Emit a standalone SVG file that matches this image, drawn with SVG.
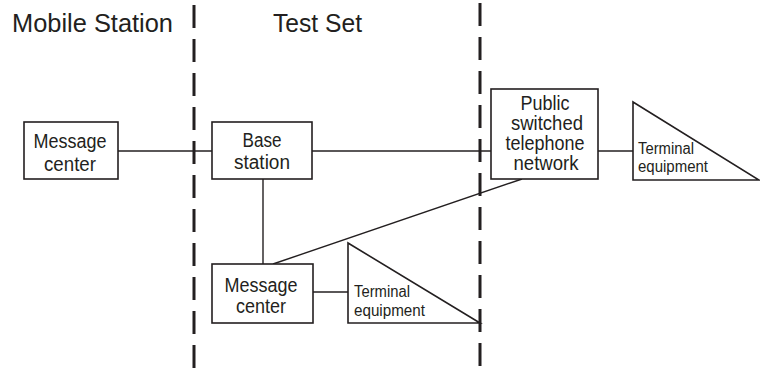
<svg xmlns="http://www.w3.org/2000/svg" width="760" height="368" viewBox="0 0 760 368">
<style>
.box{fill:#fff;stroke:#231f20;stroke-width:1.6}
.ln{fill:none;stroke:#231f20;stroke-width:1.4}
.dash{fill:none;stroke:#231f20;stroke-width:3;stroke-dasharray:23 11}
.t{font-family:"Liberation Sans",Arial,sans-serif;fill:#231f20;text-anchor:middle;font-size:19.5px}
.tl{font-family:"Liberation Sans",Arial,sans-serif;fill:#231f20;font-size:16px}
.h{font-family:"Liberation Sans",Arial,sans-serif;fill:#231f20;font-size:26.5px}
</style>
<rect width="760" height="368" fill="#fff"/>
<g id="labels">
<text class="h" x="12" y="32" textLength="161" lengthAdjust="spacingAndGlyphs">Mobile Station</text>
<text class="h" x="273" y="32" textLength="89" lengthAdjust="spacingAndGlyphs">Test Set</text>
</g>
<g id="boundaries">
<line class="dash" x1="194" y1="5" x2="194" y2="368"/>
<line class="dash" x1="480" y1="3" x2="480" y2="368"/>
</g>
<g id="connectors">
<line class="ln" x1="118" y1="151" x2="212" y2="151"/>
<line class="ln" x1="312" y1="151" x2="491" y2="151"/>
<line class="ln" x1="598" y1="151" x2="633" y2="151"/>
<line class="ln" x1="263" y1="179" x2="263" y2="264"/>
<line class="ln" x1="273" y1="264" x2="522" y2="179"/>
<line class="ln" x1="313" y1="292" x2="348" y2="292"/>
</g>
<g id="ms-message-center">
<rect class="box" x="24" y="122" width="94" height="57"/>
<text class="t" x="70" y="148" textLength="73" lengthAdjust="spacingAndGlyphs">Message</text>
<text class="t" x="70" y="171" textLength="52" lengthAdjust="spacingAndGlyphs">center</text>
</g>
<g id="base-station">
<rect class="box" x="212" y="122" width="100" height="57"/>
<text class="t" x="262" y="147" textLength="39" lengthAdjust="spacingAndGlyphs">Base</text>
<text class="t" x="262" y="169" textLength="56" lengthAdjust="spacingAndGlyphs">station</text>
</g>
<g id="ts-message-center">
<rect class="box" x="212" y="264" width="101" height="59"/>
<text class="t" x="261" y="292" textLength="73" lengthAdjust="spacingAndGlyphs">Message</text>
<text class="t" x="261" y="313" textLength="50" lengthAdjust="spacingAndGlyphs">center</text>
</g>
<g id="pstn">
<rect class="box" x="491" y="89" width="107" height="90"/>
<text class="t" x="545" y="110" textLength="49" lengthAdjust="spacingAndGlyphs">Public</text>
<text class="t" x="547" y="130" textLength="72" lengthAdjust="spacingAndGlyphs">switched</text>
<text class="t" x="545" y="150" textLength="79" lengthAdjust="spacingAndGlyphs">telephone</text>
<text class="t" x="546" y="170" textLength="65" lengthAdjust="spacingAndGlyphs">network</text>
</g>
<g id="ts-terminal">
<polygon class="box" points="348,243 348,323 480,323"/>
<text class="tl" x="354" y="297" textLength="56" lengthAdjust="spacingAndGlyphs">Terminal</text>
<text class="tl" x="354" y="316" textLength="71" lengthAdjust="spacingAndGlyphs">equipment</text>
</g>
<g id="pstn-terminal">
<polygon class="box" points="633,102 633,180 759,180"/>
<text class="tl" x="638" y="154" textLength="56" lengthAdjust="spacingAndGlyphs">Terminal</text>
<text class="tl" x="638" y="172" textLength="70" lengthAdjust="spacingAndGlyphs">equipment</text>
</g>
</svg>
